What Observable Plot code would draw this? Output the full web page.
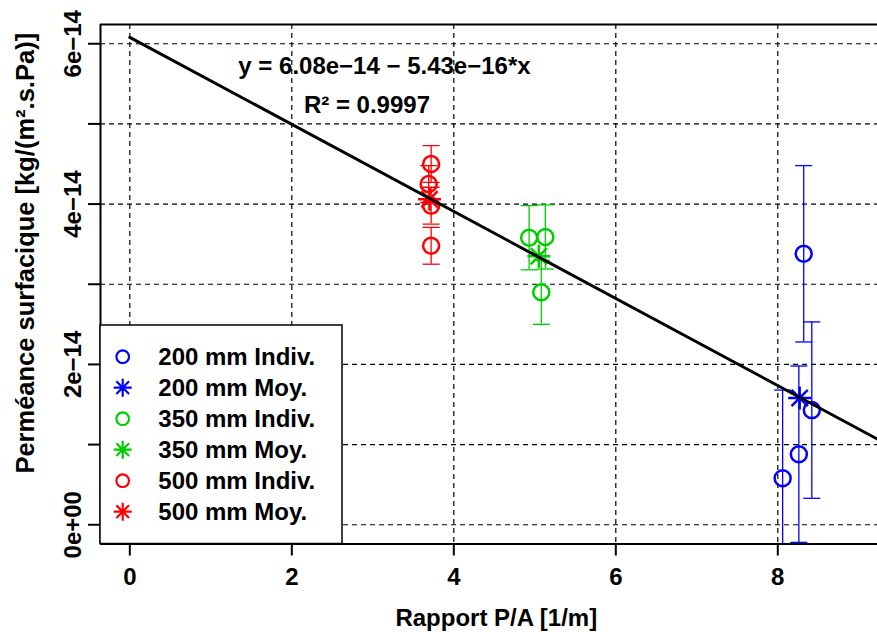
<!DOCTYPE html>
<html><head><meta charset="utf-8">
<script src="https://cdn.jsdelivr.net/npm/d3@7"></script>
<script src="https://cdn.jsdelivr.net/npm/@observablehq/plot@0.6"></script>
<style>
body{margin:0;background:#fff;}
#chart svg{font-family:"Liberation Sans",Arial,Helvetica,sans-serif;}
</style>
</head><body><div id="chart"></div>
<script>
// ---------- data ----------
const groups = ["200 mm", "350 mm", "500 mm"];
const groupColors = ["#0000FF", "#00CD00", "#FF0000"];

const indivGroup = ["200 mm","200 mm","200 mm","200 mm","350 mm","350 mm","350 mm","500 mm","500 mm","500 mm","500 mm"];
const indivPA    = [8.06, 8.26, 8.32, 8.42, 4.93, 5.13, 5.08, 3.72, 3.69, 3.72, 3.72];
const indivPerm  = [0.58e-14, 0.88e-14, 3.38e-14, 1.43e-14, 3.58e-14, 3.59e-14, 2.90e-14, 4.50e-14, 4.25e-14, 3.98e-14, 3.48e-14];
const indivErr   = [1.1e-14, 1.1e-14, 1.1e-14, 1.1e-14, 0.40e-14, 0.40e-14, 0.40e-14, 0.23e-14, 0.23e-14, 0.23e-14, 0.23e-14];

const meanGroup = ["200 mm", "350 mm", "500 mm"];
const meanPA    = [8.27, 5.05, 3.70];
const meanPerm  = [1.58e-14, 3.35e-14, 4.06e-14];

const fitIntercept = 6.08e-14;
const fitSlope = -5.43e-15;
const fitXRange = [0, 9.6];

const eqText = "y = 6.08e\u221214 \u2212 5.43e\u221216*x";
const eqPos = [3.144, 5.716e-14];
const r2Text = "R\u00b2 = 0.9997";
const r2Pos = [2.928, 5.235e-14];

const xTicks = [0, 2, 4, 6, 8];
const xTickLabels = ["0", "2", "4", "6", "8"];
const yTicks = [0, 1e-14, 2e-14, 3e-14, 4e-14, 5e-14, 6e-14];
const yTickLabels = ["0e+00", "", "2e\u221214", "", "4e\u221214", "", "6e\u221214"];

const xLabel = "Rapport P/A [1/m]";
const yLabel = "Perm\u00e9ance surfacique [kg/(m\u00b2.s.Pa)]";

const legendLabels = ["200 mm Indiv.", "200 mm Moy.", "350 mm Indiv.", "350 mm Moy.", "500 mm Indiv.", "500 mm Moy."];
const legendGroups = ["200 mm", "200 mm", "350 mm", "350 mm", "500 mm", "500 mm"];
const legendKinds  = ["indiv", "moy", "indiv", "moy", "indiv", "moy"];

// ---------- tables ----------
const indiv = indivPA.map((x, i) => ({group: indivGroup[i], x, y: indivPerm[i], e: indivErr[i]}));
const means = meanPA.map((x, i) => ({group: meanGroup[i], x, y: meanPerm[i]}));
const fitLine = fitXRange.map(x => ({x, y: fitIntercept + fitSlope * x}));
const colorOf = g => groupColors[groups.indexOf(g)];

// custom symbols
const star8 = {draw(ctx, size) {
  const r = Math.sqrt(size / Math.PI), d = r / Math.SQRT2;
  ctx.moveTo(0, -r); ctx.lineTo(0, r);
  ctx.moveTo(-r, 0); ctx.lineTo(r, 0);
  ctx.moveTo(-d, -d); ctx.lineTo(d, d);
  ctx.moveTo(-d, d); ctx.lineTo(d, -d);
}};
const capSym = {draw(ctx, size) {
  const r = Math.sqrt(size / Math.PI);
  ctx.moveTo(-r, 0); ctx.lineTo(r, 0);
}};

const xDomain = [-0.362, 9.231];
const yDomain = [-0.24e-14, 6.24e-14];
const F = 24;
const txt = {fontSize: F, fontWeight: "bold", fill: "#000", textAnchor: "middle", lineAnchor: "middle"};

const chart = Plot.plot({
  width: 877, height: 632,
  marginLeft: 100, marginRight: 0, marginTop: 24, marginBottom: 88.5,
  x: {domain: xDomain, axis: null},
  y: {domain: yDomain, axis: null},
  color: {domain: groups, range: groupColors},
  style: {fontFamily: '"Liberation Sans", Arial, sans-serif', background: "#fff"},
  marks: [
    // grid
    Plot.ruleX(xTicks, {x: d => d, stroke: "#000", strokeWidth: 1.2, strokeDasharray: "5,4"}),
    Plot.ruleY(yTicks, {y: d => d, stroke: "#000", strokeWidth: 1.2, strokeDasharray: "5,4"}),
    // error bars
    Plot.ruleX(indiv, {x: "x", y1: d => d.y - d.e, y2: d => d.y + d.e, stroke: "group", strokeWidth: 1.3, clip: true}),
    Plot.dot(indiv, {x: "x", y: d => d.y + d.e, symbol: capSym, r: 8.5, stroke: "group", strokeWidth: 1.3, clip: true}),
    Plot.dot(indiv, {x: "x", y: d => d.y - d.e, symbol: capSym, r: 8.5, stroke: "group", strokeWidth: 1.3, clip: true}),
    // individual points
    Plot.dot(indiv, {x: "x", y: "y", r: 8, stroke: "group", strokeWidth: 2.5, fill: "none"}),
    // means
    Plot.dot(means, {x: "x", y: "y", symbol: star8, r: 11.5, stroke: "group", strokeWidth: 2.5}),
    // regression line
    Plot.line(fitLine, {x: "x", y: "y", stroke: "#000", strokeWidth: 3, clip: true}),
    // equation text
    Plot.text([eqText], {x: eqPos[0], y: eqPos[1], text: d => d, ...txt}),
    Plot.text([r2Text], {x: r2Pos[0], y: r2Pos[1], text: d => d, ...txt}),
    // box (left, top, bottom)
    Plot.ruleY(yDomain, {y: d => d, stroke: "#000", strokeWidth: 2}),
    Plot.ruleX([xDomain[0]], {x: d => d, stroke: "#000", strokeWidth: 2}),
    // x axis ticks and labels
    Plot.axisX({ticks: xTicks, tickSize: 12, tickFormat: () => "", label: null, strokeWidth: 2, stroke: "#000"}),
    Plot.text(xTicks, {x: d => d, text: (d, i) => xTickLabels[i], frameAnchor: "bottom", dy: 33.5, ...txt}),
    // y axis ticks and labels
    Plot.axisY({ticks: yTicks, tickSize: 12, tickFormat: () => "", label: null, strokeWidth: 2, stroke: "#000"}),
    Plot.text(yTicks, {y: d => d, text: (d, i) => yTickLabels[i], frameAnchor: "left", dx: -27.5, rotate: -90, ...txt}),
    // axis titles
    Plot.text([xLabel], {text: d => d, frameAnchor: "bottom", dx: 7.3, dy: 74.5, ...txt}),
    Plot.text([yLabel], {text: d => d, frameAnchor: "left", dx: -75, dy: -31, rotate: -90, ...txt, fontSize: 25.5})
  ]
});

document.getElementById("chart").appendChild(chart);

// ---------- legend (R-style box inside the plot) ----------
const svg = d3.select(chart);
const lg = svg.append("g").attr("text-anchor", "start");
lg.append("rect").attr("x", 100).attr("y", 325).attr("width", 242).attr("height", 218.5)
  .attr("fill", "#fff").attr("stroke", "#000").attr("stroke-width", 1.5);
legendLabels.forEach((lab, i) => {
  const cy = 356.7 + 31 * i;
  const col = colorOf(legendGroups[i]);
  if (legendKinds[i] === "indiv") {
    lg.append("circle").attr("cx", 122.7).attr("cy", cy).attr("r", 6.3)
      .attr("fill", "none").attr("stroke", col).attr("stroke-width", 2.2);
  } else {
    const p = d3.path();
    star8.draw(p, Math.PI * 9 * 9);
    lg.append("path").attr("d", p.toString()).attr("transform", `translate(122.7,${cy})`)
      .attr("fill", "none").attr("stroke", col).attr("stroke-width", 2.2);
  }
  lg.append("text").attr("x", 158.3).attr("y", cy).attr("dy", "0.35em").attr("text-anchor", "start")
    .attr("font-size", F).attr("font-weight", "bold").attr("fill", "#000").text(lab);
});
</script>
</body></html>
